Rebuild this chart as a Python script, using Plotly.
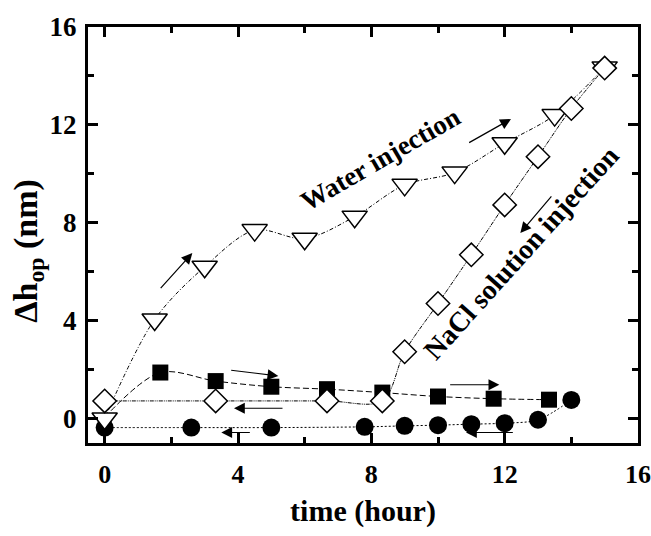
import plotly.graph_objects as go

# ---- data ----
tri_x = [0.0, 1.5, 3.0, 4.5, 6.0, 7.5, 9.0, 10.5, 12.0, 13.5, 15.0]
tri_y = [0.0, 4.05, 6.2, 7.7, 7.35, 8.25, 9.55, 10.05, 11.25, 12.4, 14.35]

dia_x = [0.0, 3.33, 6.67, 8.33, 9.0, 10.0, 11.0, 12.0, 13.0, 14.0, 15.0]
dia_y = [0.72, 0.72, 0.72, 0.72, 2.73, 4.7, 6.69, 8.73, 10.7, 12.67, 14.32]

sq_x = [0.0, 1.67, 3.33, 5.0, 6.67, 8.33, 10.0, 11.67, 13.33]
sq_y = [0.05, 1.88, 1.53, 1.3, 1.2, 1.06, 0.9, 0.81, 0.77]
sq_marker = [False, True, True, True, True, True, True, True, True]

cir_x = [0.0, 2.6, 5.0, 7.8, 9.0, 10.0, 11.0, 12.0, 13.0, 14.0]
cir_y = [-0.37, -0.37, -0.37, -0.34, -0.3, -0.27, -0.23, -0.19, -0.05, 0.76]

x_ticks = [0, 4, 8, 12, 16]
y_ticks = [0, 4, 8, 12, 16]

FONT = "Liberation Serif"

fig = go.Figure()

# connecting (smoothed) lines first
line_specs = [
    (sq_x, sq_y, "6px,3px"),
    (cir_x, cir_y, "2px,2px"),
    (tri_x, tri_y, "4px,2px,1px,2px"),
    (dia_x, dia_y, "4px,1px,1px,1px,1px,1px"),
]
for xs, ys, dash in line_specs:
    fig.add_trace(go.Scatter(
        x=xs, y=ys, mode="lines",
        line=dict(color="black", width=1, dash=dash, shape="spline", smoothing=0.9),
        hoverinfo="skip", showlegend=False))

# markers
fig.add_trace(go.Scatter(
    x=[x for x, m in zip(sq_x, sq_marker) if m],
    y=[y for y, m in zip(sq_y, sq_marker) if m],
    mode="markers", showlegend=False,
    marker=dict(symbol="square", size=16, color="black", line=dict(width=0))))
fig.add_trace(go.Scatter(
    x=cir_x, y=cir_y, mode="markers", showlegend=False,
    marker=dict(symbol="circle", size=18, color="black", line=dict(width=0))))
fig.add_trace(go.Scatter(
    x=tri_x, y=tri_y, mode="markers", showlegend=False,
    marker=dict(symbol="triangle-down", size=22, color="white",
                line=dict(color="black", width=1.5))))
fig.add_trace(go.Scatter(
    x=dia_x, y=dia_y, mode="markers", showlegend=False,
    marker=dict(symbol="diamond", size=18, color="white",
                line=dict(color="black", width=1.5))))

# arrows
arrows = [
    ((1.64, 5.27), (2.63, 6.76)),
    ((10.89, 11.24), (12.19, 12.24)),
    ((13.44, 9.14), (12.47, 7.58)),
    ((3.75, 1.98), (5.21, 1.74)),
    ((10.32, 1.38), (11.84, 1.38)),
    ((5.38, 0.42), (3.88, 0.42)),
    ((4.40, -0.57), (3.50, -0.57)),
    ((12.29, -0.57), (10.84, -0.57)),
]
for (x0, y0), (x1, y1) in arrows:
    fig.add_annotation(x=x1, y=y1, ax=x0, ay=y0, xref="x", yref="y",
                       axref="x", ayref="y", text="", showarrow=True,
                       arrowhead=2, arrowsize=1.8, arrowwidth=1.2,
                       arrowcolor="black")

fig.add_annotation(x=8.27, y=10.6, xref="x", yref="y", showarrow=False,
                   text="<b>Water injection</b>", textangle=-30,
                   font=dict(family=FONT, size=27, color="black"))
fig.add_annotation(x=12.5, y=6.8, xref="x", yref="y", showarrow=False,
                   text="<b>NaCl solution injection</b>", textangle=-48,
                   font=dict(family=FONT, size=28, color="black"))

# y-axis title (as a rotated annotation so its vertical position can be matched)
fig.add_annotation(x=-0.109, y=0.462, xref="paper", yref="paper", showarrow=False,
                   xanchor="center", yanchor="middle", textangle=-90,
                   text="<b>Δh<sub>op</sub> (nm)</b>",
                   font=dict(family=FONT, size=34, color="black"))

axis_common = dict(
    showline=True, linecolor="black", linewidth=3, mirror="allticks",
    ticks="inside", ticklen=10, tickwidth=2.5, tickcolor="black",
    showgrid=False, zeroline=False, automargin=False,
    ticklabeloverflow="allow",
    minor=dict(ticks="inside", ticklen=6, tickwidth=2.5, tickcolor="black", dtick=2),
)

fig.update_layout(
    width=651, height=536,
    margin=dict(l=88, r=13, t=27, b=93),
    paper_bgcolor="white", plot_bgcolor="white",
    showlegend=False,
    xaxis=dict(range=[-0.5, 16.0001], tickmode="array", tickvals=x_ticks,
               ticklabelstandoff=6,
               tickfont=dict(family=FONT, size=26, color="black", weight="bold"),
               title=dict(text="<b>time (hour)</b>", standoff=12,
                          font=dict(family=FONT, size=30, color="black")),
               **axis_common),
    yaxis=dict(range=[-1, 16.0001], tickmode="array", tickvals=y_ticks,
               ticklabelstandoff=3,
               tickfont=dict(family=FONT, size=27, color="black", weight="bold"),
               **axis_common),
)

# remove the default page margin so the figure fills the window exactly
fig.write_html("out.html",
               config={"displayModeBar": False},
               post_script="document.body.style.margin='0';document.body.style.overflow='hidden';")
